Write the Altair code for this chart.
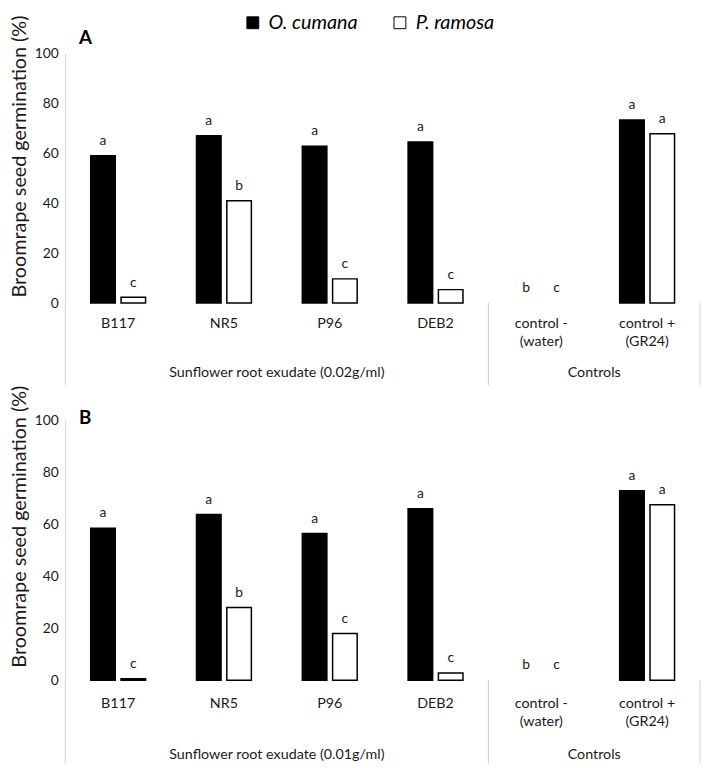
import altair as alt
import pandas as pd

categories = ["B117", "NR5", "P96", "DEB2", "control -", "control +"]
category_labels = ["B117", "NR5", "P96", "DEB2", "control -\n(water)", "control +\n(GR24)"]
species = ["O. cumana", "P. ramosa"]

# Panel A (0.02 g/ml)
cumana_A = [59.0, 67.0, 62.8, 64.5, 0.0, 73.3]
ramosa_A = [2.3, 41.0, 9.7, 5.4, 0.0, 67.8]
cumana_A_letters = ["a", "a", "a", "a", "b", "a"]
ramosa_A_letters = ["c", "b", "c", "c", "c", "a"]
groups_A = ["Sunflower root exudate (0.02g/ml)", "Controls"]

# Panel B (0.01 g/ml)
cumana_B = [58.5, 63.8, 56.5, 66.0, 0.0, 73.0]
ramosa_B = [0.6, 28.0, 18.0, 2.8, 0.0, 67.6]
cumana_B_letters = ["a", "a", "a", "a", "b", "a"]
ramosa_B_letters = ["c", "b", "c", "c", "c", "a"]
groups_B = ["Sunflower root exudate (0.01g/ml)", "Controls"]

# groups: index of first category and number of categories
group_start = [0, 4]
group_size = [4, 2]
y_ticks = [0, 20, 40, 60, 80, 100]

FONT = "Lato"
GRAY = "#d0d0d0"
TEXT = "#1a1a1a"
W = 643


def xenc(field, **kw):
    return alt.X(f"{field}:N",
                 scale=alt.Scale(domain=categories, paddingInner=0, paddingOuter=0),
                 **kw)


def xpos(field):
    return alt.X(f"{field}:Q",
                 scale=alt.Scale(domain=[0, len(categories)], nice=False, zero=False),
                 axis=None)


def panel(tag, cum, ram, lc, lr, groups, H, title_y, tag_y, lab_y, grp_y, rule_len, legend):
    bars = pd.DataFrame({
        "category": categories * 2,
        "species": [species[0]] * 6 + [species[1]] * 6,
        "value": cum + ram,
        "letter": lc + lr,
    })
    xoff = alt.XOffset("species:N",
                       scale=alt.Scale(domain=species, paddingInner=0.19, paddingOuter=0.84))
    yaxis = alt.Axis(values=y_ticks, ticks=False, grid=False, domainColor=GRAY,
                     labelFontSize=14, labelColor=TEXT, labelPadding=7,
                     title="Broomrape seed germination (%)", titleFontSize=20,
                     titleFontWeight="normal", titleColor=TEXT, titleAngle=270,
                     titleX=-40, titleY=title_y, titleAlign="center",
                     titleBaseline="alphabetic")
    yscale = alt.Scale(domain=[0, 100], nice=False)
    fill = alt.Fill("species:N",
                    scale=alt.Scale(domain=species, range=["#000000", "#ffffff"]),
                    legend=legend)
    xaxis = alt.Axis(labels=False, ticks=False, grid=False, domainColor=GRAY, title=None)
    bar_layer = alt.Chart(bars).transform_filter("datum.value > 0").mark_bar(
        stroke="black", strokeWidth=1.5
    ).encode(
        x=xenc("category", axis=xaxis),
        xOffset=xoff, y=alt.Y("value:Q", scale=yscale, axis=yaxis), fill=fill)
    letters = alt.Chart(bars).mark_text(dy=-15, fontSize=14, color=TEXT, baseline="middle").encode(
        x=xenc("category", axis=None),
        xOffset=xoff,
        y=alt.Y("value:Q", scale=yscale, axis=yaxis), text="letter:N")

    lab_df = pd.DataFrame({"category": categories, "label": category_labels})
    cat_text = alt.Chart(lab_df).mark_text(baseline="top", fontSize=14.5, lineHeight=18,
                                           lineBreak="\n", color=TEXT).encode(
        x=xenc("category", axis=None), y=alt.value(H + lab_y), text="label:N")

    grp_df = pd.DataFrame({"group": groups, "start": group_start, "size": group_size})
    grp_df["end"] = grp_df["start"] + grp_df["size"]
    rules_start = alt.Chart(grp_df).mark_rule(color=GRAY, strokeWidth=1).encode(
        x=xpos("start"), y=alt.value(H), y2=alt.value(H + rule_len))
    rules_end = alt.Chart(grp_df).mark_rule(color=GRAY, strokeWidth=1).encode(
        x=xpos("end"), y=alt.value(H), y2=alt.value(H + rule_len))
    grp_text = alt.Chart(grp_df).transform_calculate(
        mid="datum.start + datum.size / 2"
    ).mark_text(fontSize=14.5, color=TEXT, baseline="middle").encode(
        x=xpos("mid"), y=alt.value(H + grp_y), text="group:N")

    tag_df = pd.DataFrame({"tag": [tag]})
    tag_text = alt.Chart(tag_df).mark_text(fontSize=19, fontWeight="bold", align="left",
                                           baseline="alphabetic", color="black").encode(
        x=alt.value(14), y=alt.value(tag_y), text="tag:N")

    band_layers = alt.layer(bar_layer, letters, cat_text)
    return alt.layer(band_layers, rules_start, rules_end, grp_text, tag_text).resolve_scale(
        x="independent").properties(width=W, height=H)


legend = alt.Legend(orient="none", legendX=180, legendY=-41, direction="horizontal",
                    title=None, symbolType="square", symbolSize=144,
                    symbolStrokeColor="black", symbolStrokeWidth=1,
                    labelFontSize=20, labelFontStyle="italic", labelColor="black",
                    labelOffset=6, columnPadding=32, labelFont=FONT)

pA = panel("A", cumana_A, ramosa_A, cumana_A_letters, ramosa_A_letters, groups_A,
           H=253, title_y=104, tag_y=-9, lab_y=14, grp_y=71, rule_len=83, legend=legend)
pB = panel("B", cumana_B, ramosa_B, cumana_B_letters, ramosa_B_letters, groups_B,
           H=263, title_y=107, tag_y=3, lab_y=17, grp_y=76, rule_len=84, legend=None)

chart = alt.vconcat(pA, pB, spacing=-1).properties(
    padding={"left": 1, "top": 0, "right": 0, "bottom": 0}
).configure(font=FONT).configure_view(strokeWidth=0)

chart.save("out.html", embed_options={"renderer": "svg", "actions": False})
